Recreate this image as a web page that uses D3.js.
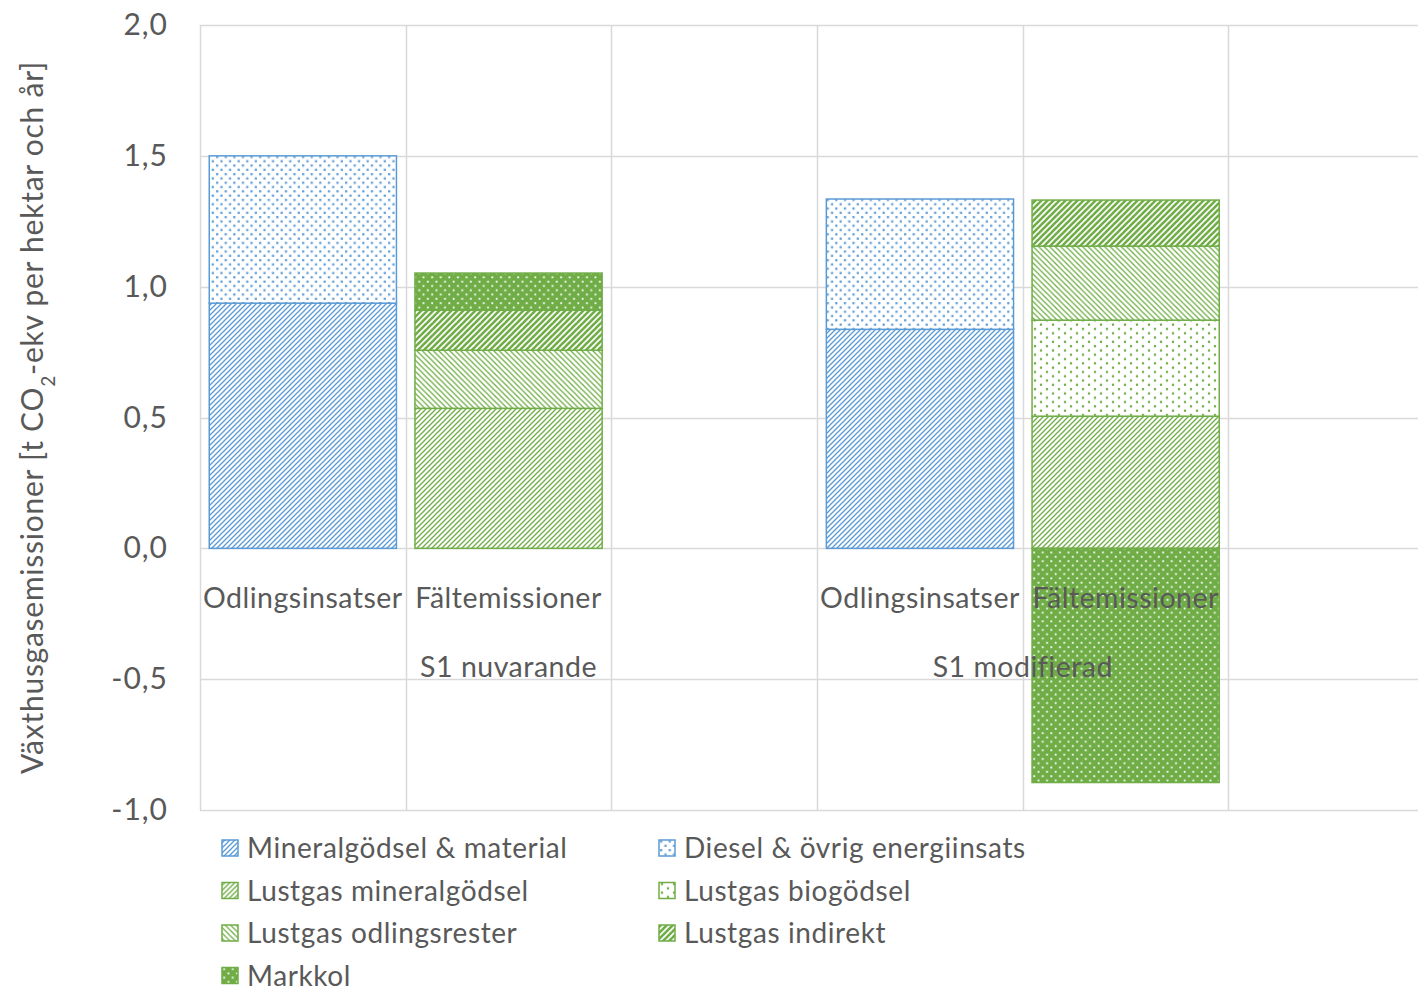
<!DOCTYPE html>
<html lang="sv">
  <head>
    <meta charset="utf-8" />
    <style>
      body { margin: 0; background: #fff; }
      svg { display: block; font-family: Lato, "Noto Sans", sans-serif; }
    </style>
  </head>
  <body>
    <svg id="chart" width="1418" height="988"></svg>
    <script src="https://cdn.jsdelivr.net/npm/d3@7"></script>
    <script>
      // categories along the x axis (6 slots, the last one is empty)
      const categories = ["Odlingsinsatser", "Fältemissioner", "", "Odlingsinsatser", "Fältemissioner", ""];
      const groups = [
        { name: "S1 nuvarande", start: 0, span: 3 },
        { name: "S1 modifierad", start: 3, span: 2 },
        { name: "", start: 5, span: 1 }
      ];

      const seriesNames = [
        "Mineralgödsel & material",
        "Diesel & övrig energiinsats",
        "Lustgas mineralgödsel",
        "Lustgas biogödsel",
        "Lustgas odlingsrester",
        "Lustgas indirekt",
        "Markkol"
      ];

      // values per series, one per category slot
      const mineralgodsel = [0.937, 0, 0, 0.837, 0, 0];
      const diesel = [0.563, 0, 0, 0.498, 0, 0];
      const lustgasMineral = [0, 0.535, 0, 0, 0.505, 0];
      const lustgasBio = [0, 0, 0, 0, 0.367, 0];
      const lustgasOdlingsrester = [0, 0.222, 0, 0, 0.283, 0];
      const lustgasIndirekt = [0, 0.153, 0, 0, 0.176, 0];
      const markkol = [0, 0.142, 0, 0, -0.895, 0];

      const yTicks = [-1.0, -0.5, 0.0, 0.5, 1.0, 1.5, 2.0];

      const seriesValues = [mineralgodsel, diesel, lustgasMineral, lustgasBio,
        lustgasOdlingsrester, lustgasIndirekt, markkol];

      const blue = "#5B9BD5";
      const green = "#70AD47";
      const textColor = "#595959";
      const gridColor = "#D9D9D9";

      const svg = d3.select("#chart");
      const defs = svg.append("defs");

      // hatch patterns, similar to the office pattern fills
      const linePattern = (id, color, dir, period, sw) => {
        const p = defs.append("pattern")
          .attr("id", id)
          .attr("patternUnits", "userSpaceOnUse")
          .attr("width", period)
          .attr("height", period);
        p.append("rect").attr("width", period).attr("height", period).attr("fill", "#fff");
        const g = p.append("g").attr("stroke", color).attr("stroke-width", sw);
        if (dir === "up") {
          g.append("line").attr("x1", -1).attr("y1", period + 1).attr("x2", period + 1).attr("y2", -1);
          g.append("line").attr("x1", -1).attr("y1", 1).attr("x2", 1).attr("y2", -1);
          g.append("line").attr("x1", period - 1).attr("y1", period + 1).attr("x2", period + 1).attr("y2", period - 1);
        } else {
          g.append("line").attr("x1", -1).attr("y1", -1).attr("x2", period + 1).attr("y2", period + 1);
          g.append("line").attr("x1", period - 1).attr("y1", -1).attr("x2", period + 1).attr("y2", 1);
          g.append("line").attr("x1", -1).attr("y1", period - 1).attr("x2", 1).attr("y2", period + 1);
        }
      };

      const dotPattern = (id, bg, fg, w, h, r) => {
        const p = defs.append("pattern")
          .attr("id", id)
          .attr("patternUnits", "userSpaceOnUse")
          .attr("width", w)
          .attr("height", h);
        p.append("rect").attr("width", w).attr("height", h).attr("fill", bg);
        [[w / 4, h / 4], [(3 * w) / 4, (3 * h) / 4]].forEach(([cx, cy]) => {
          p.append("rect")
            .attr("x", cx - r).attr("y", cy - r)
            .attr("width", 2 * r).attr("height", 2 * r)
            .attr("fill", fg);
        });
      };

      linePattern("p-mineral", blue, "up", 5, 1.3);
      dotPattern("p-diesel", "#fff", blue, 8.6, 8.6, 1.1);
      linePattern("p-lmineral", green, "up", 5, 1.3);
      dotPattern("p-lbio", "#fff", green, 12, 8.6, 1.1);
      linePattern("p-lodling", green, "down", 5.5, 1.3);
      linePattern("p-lindirekt", green, "up", 6, 2.6);
      dotPattern("p-markkol", green, "#fff", 8.6, 8.6, 0.9);

      const fills = ["url(#p-mineral)", "url(#p-diesel)", "url(#p-lmineral)", "url(#p-lbio)",
        "url(#p-lodling)", "url(#p-lindirekt)", "url(#p-markkol)"];
      const strokes = [blue, blue, green, green, green, green, green];

      const table = categories.map((c, i) => {
        const row = { index: i };
        seriesNames.forEach((s, k) => { row[s] = seriesValues[k][i]; });
        return row;
      });

      const margin = { left: 200, top: 25, bottom: 810 };
      const step = 205.7;

      const x = d3.scaleBand()
        .domain(categories.map((c, i) => i))
        .range([margin.left, margin.left + step * categories.length])
        .paddingInner(0.09)
        .paddingOuter(0.045);

      const y = d3.scaleLinear()
        .domain([-1, 2])
        .range([margin.bottom, margin.top]);

      // gridlines
      const grid = svg.append("g");
      grid.selectAll("line.h")
        .data(yTicks)
        .join("line")
        .attr("x1", margin.left)
        .attr("x2", 1418)
        .attr("y1", d => Math.round(y(d)) + 0.5)
        .attr("y2", d => Math.round(y(d)) + 0.5)
        .attr("stroke", gridColor)
        .attr("stroke-width", 1.5);
      grid.selectAll("line.v")
        .data(d3.range(categories.length + 1))
        .join("line")
        .attr("x1", i => Math.round(margin.left + i * x.step()) + 0.5)
        .attr("x2", i => Math.round(margin.left + i * x.step()) + 0.5)
        .attr("y1", margin.top)
        .attr("y2", margin.bottom)
        .attr("stroke", gridColor)
        .attr("stroke-width", 1.5);

      // stacked bars
      const stack = d3.stack()
        .keys(seriesNames)
        .offset(d3.stackOffsetDiverging);
      const stacked = stack(table);

      svg.append("g")
        .selectAll("g")
        .data(stacked)
        .join("g")
        .attr("fill", (d, k) => fills[k])
        .attr("stroke", (d, k) => strokes[k])
        .attr("stroke-width", 1.5)
        .selectAll("rect")
        .data(d => d.filter(v => v[0] !== v[1]))
        .join("rect")
        .attr("x", d => x(d.data.index))
        .attr("width", x.bandwidth())
        .attr("y", d => y(Math.max(d[0], d[1])))
        .attr("height", d => Math.abs(y(d[0]) - y(d[1])));

      // y axis tick labels
      const fmt = v => d3.format(".1f")(v).replace(".", ",").replace("−", "-");
      const yAxis = d3.axisLeft(y).tickValues(yTicks).tickFormat(fmt).tickSize(0).tickPadding(32);
      const ya = svg.append("g")
        .attr("transform", `translate(${margin.left},0)`)
        .call(yAxis);
      ya.select(".domain").remove();
      ya.selectAll("text")
        .attr("fill", textColor)
        .style("font-size", "30px")
        .style("letter-spacing", "1px")
        .style("font-family", "Lato, sans-serif");

      // y axis title
      const title = svg.append("text")
        .attr("transform", `translate(43,${(margin.top + margin.bottom) / 2}) rotate(-90)`)
        .attr("text-anchor", "middle")
        .attr("fill", textColor)
        .style("font-size", "30px")
        .style("letter-spacing", "0.75px");
      title.append("tspan").text("Växthusgasemissioner [t CO");
      title.append("tspan").text("2").attr("baseline-shift", "sub").style("font-size", "19px");
      title.append("tspan").text("-ekv per hektar och år]");

      // category labels
      svg.append("g")
        .selectAll("text")
        .data(categories)
        .join("text")
        .attr("x", (c, i) => x(i) + x.bandwidth() / 2)
        .attr("y", 608)
        .attr("text-anchor", "middle")
        .attr("fill", textColor)
        .style("font-size", "28.5px")
        .style("letter-spacing", "0.5px")
        .text(c => c);

      svg.append("g")
        .selectAll("text")
        .data(groups)
        .join("text")
        .attr("x", g => margin.left + (g.start + g.span / 2) * x.step())
        .attr("y", 677)
        .attr("text-anchor", "middle")
        .attr("fill", textColor)
        .style("font-size", "28.5px")
        .style("letter-spacing", "0.5px")
        .text(g => g.name);

      // legend
      const legend = svg.append("g")
        .selectAll("g")
        .data(seriesNames)
        .join("g")
        .attr("transform", (s, k) => `translate(${k % 2 === 0 ? 222 : 659},${848 + Math.floor(k / 2) * 42.5})`);
      legend.append("rect")
        .attr("x", 0)
        .attr("y", -8)
        .attr("width", 16)
        .attr("height", 16)
        .attr("fill", (s, k) => fills[k])
        .attr("stroke", (s, k) => strokes[k])
        .attr("stroke-width", 1.5);
      legend.append("text")
        .attr("x", 25)
        .attr("y", 10)
        .attr("fill", textColor)
        .style("font-size", "28px")
        .style("letter-spacing", "0.6px")
        .text(s => s);
    </script>
  </body>
</html>
